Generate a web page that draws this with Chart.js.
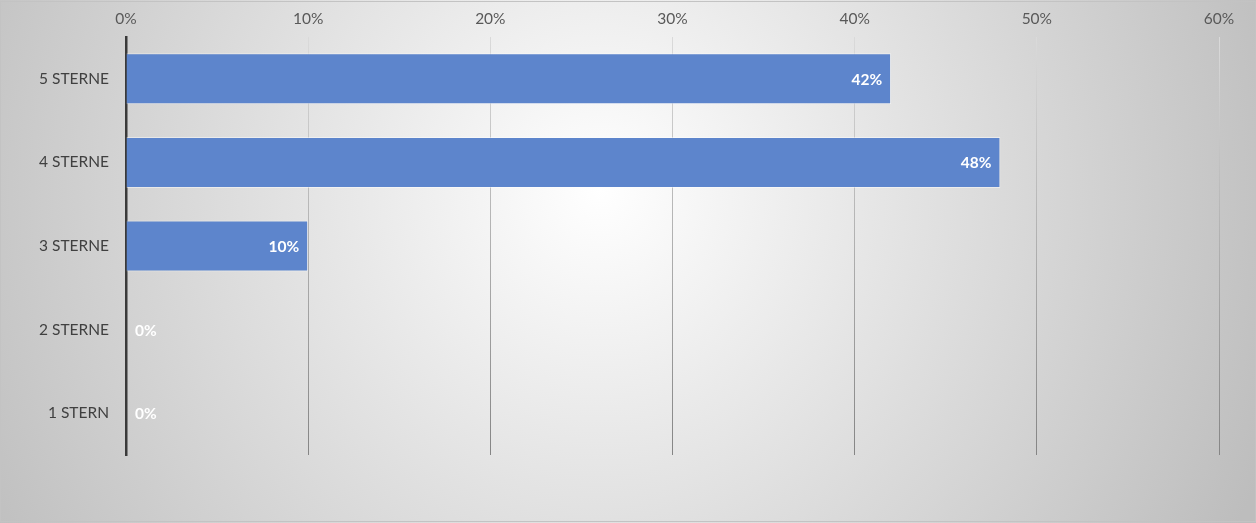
<!DOCTYPE html>
<html>
<head>
<meta charset="utf-8">
<script src="https://cdn.jsdelivr.net/npm/chart.js@4"></script>
<style>
  html, body { margin: 0; padding: 0; }
  #wrap { width: 1256px; height: 523px; }
</style>
</head>
<body>
<div id="wrap"><canvas id="grafico"></canvas></div>
<script>
// dados
const kategorien = ['5 STERNE', '4 STERNE', '3 STERNE', '2 STERNE', '1 STERN'];
const anteile = [42, 48, 10, 0, 0];
const xTicks = [0, 10, 20, 30, 40, 50, 60];

const FONT = 'Lato, "Open Sans", sans-serif';

// fundo com gradiente radial + borda
const hintergrund = {
    id: 'hintergrund',
    beforeDraw(chart) {
        const c = chart.ctx;
        c.save();
        const g = c.createRadialGradient(600, 190, 0, 600, 190, 720);
        g.addColorStop(0, '#ffffff');
        g.addColorStop(1, '#bdbdbd');
        c.fillStyle = g;
        c.fillRect(0, 0, chart.width, chart.height);
        c.strokeStyle = '#c3c3c3';
        c.lineWidth = 1;
        c.strokeRect(0.5, 1.5, chart.width - 1, chart.height - 3);
        c.restore();
    }
};

// rótulos brancos dentro da barra
const beschriftung = {
    id: 'beschriftung',
    afterDatasetsDraw(chart) {
        const c = chart.ctx;
        const meta = chart.getDatasetMeta(0);
        c.save();
        c.font = 'bold 15.5px ' + FONT;
        c.fillStyle = '#ffffff';
        c.textBaseline = 'middle';
        meta.data.forEach((bar, i) => {
            const txt = anteile[i] + '%';
            if (anteile[i] > 0) {
                c.textAlign = 'right';
                c.fillText(txt, bar.x - 9, bar.y + 1);
            } else {
                c.textAlign = 'left';
                c.fillText(txt, bar.x + 9, bar.y + 1);
            }
        });
        c.restore();
    }
};

function gridFarbe(ctx) {
    const area = ctx.chart.chartArea;
    if (!area) return '#cccccc';
    if (ctx.tick && ctx.tick.value === 0) return 'rgba(0,0,0,0)';
    const g = ctx.chart.ctx.createLinearGradient(0, area.top, 0, area.bottom);
    g.addColorStop(0, '#dadada');
    g.addColorStop(1, '#858585');
    return g;
}

new Chart(document.getElementById('grafico'), {
    type: 'bar',
    data: {
        labels: kategorien,
        datasets: [{
            data: anteile,
            backgroundColor: '#5d85cc',
            borderColor: 'rgba(255,255,255,0.45)',
            borderWidth: 1,
            borderSkipped: 'start',
            categoryPercentage: 0.61,
            barPercentage: 1
        }]
    },
    options: {
        indexAxis: 'y',
        responsive: true,
        maintainAspectRatio: false,
        animation: false,
        layout: { padding: { left: 0, top: 0, right: 37, bottom: 68 } },
        plugins: { legend: { display: false }, tooltip: { enabled: false } },
        scales: {
            x: {
                position: 'top',
                min: 0,
                max: 60,
                afterBuildTicks(scale) {
                    scale.ticks = xTicks.map(v => ({ value: v }));
                },
                afterFit(scale) { scale.height = 37; },
                ticks: {
                    callback: v => v + '%',
                    color: '#595959',
                    font: { family: FONT, size: 15.5 },
                    padding: 9
                },
                grid: { color: gridFarbe, lineWidth: 1, drawTicks: false },
                border: { display: false }
            },
            y: {
                afterFit(scale) { scale.width = 126; },
                ticks: {
                    color: '#404040',
                    font: { family: FONT, size: 15.5 },
                    padding: 17
                },
                grid: { display: false, drawTicks: false },
                border: { display: true, color: '#3a3a3a', width: 2.5 }
            }
        }
    },
    plugins: [hintergrund, beschriftung]
});
</script>
</body>
</html>
